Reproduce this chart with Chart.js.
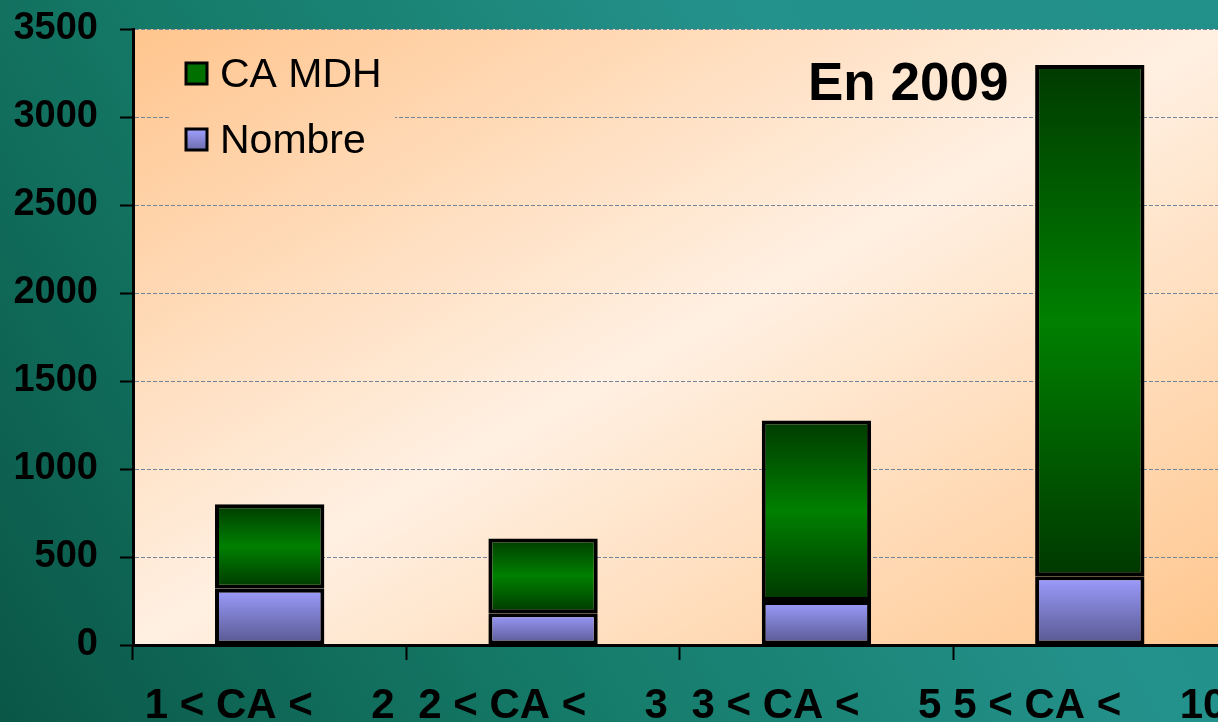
<!DOCTYPE html>
<html>
<head>
<meta charset="utf-8">
<script src="https://cdn.jsdelivr.net/npm/chart.js@4/dist/chart.umd.min.js"></script>
<style>
  html, body { margin: 0; padding: 0; overflow: hidden; background: #1a7a70; }
  #wrap { width: 1218px; height: 722px; overflow: hidden; }
</style>
</head>
<body>
<div id="wrap"><canvas id="Chart" width="1248" height="745"></canvas></div>
<script>
const categories = ['1 < CA <     2', '2 < CA <     3', '3 < CA <     5', '5 < CA <     10'];
const nombre = [320, 180, 250, 390];
const caMdh = [480, 425, 1025, 2905];
const yTicks = [0, 500, 1000, 1500, 2000, 2500, 3000, 3500];
const title = 'En 2009';

// gradient for one bar segment, top dark, lighter in the middle
function barFill(ctx, which){
  const chart = ctx.chart;
  const solid = which === 'ca' ? '#007a00' : '#8a8ae6';
  if (!chart.chartArea || ctx.type !== 'data') return solid;
  const y = chart.scales.y;
  const i = ctx.dataIndex;
  let lo, hi;
  if (which === 'ca') { lo = nombre[i]; hi = nombre[i] + caMdh[i]; }
  else { lo = 0; hi = nombre[i]; }
  const top = y.getPixelForValue(hi), bot = y.getPixelForValue(lo);
  const g = chart.ctx.createLinearGradient(0, top, 0, bot);
  if (which === 'ca') {
    g.addColorStop(0, '#003a00');
    g.addColorStop(0.5, '#008000');
    g.addColorStop(1, '#003800');
  } else {
    g.addColorStop(0, '#9d9dff');
    g.addColorStop(1, '#57578f');
  }
  return g;
}

function areaGradient(c, a){
  const w = a.right - a.left, h = a.bottom - a.top;
  const len = Math.sqrt(w*w + h*h);
  const ux = h / len, uy = w / len;
  const d = w * h / len;
  const cx = (a.left + a.right) / 2, cy = (a.top + a.bottom) / 2;
  const g = c.createLinearGradient(cx - ux*d, cy - uy*d, cx + ux*d, cy + uy*d);
  g.addColorStop(0, '#ffc58e');
  g.addColorStop(0.5, '#fff0e2');
  g.addColorStop(1, '#ffc68d');
  return g;
}

const backdrop = {
  id: 'backdrop',
  beforeDraw(chart){
    const c = chart.ctx, a = chart.chartArea;
    c.save();
    const bg = c.createLinearGradient(0, chart.height, chart.width, 0);
    bg.addColorStop(0, '#0a5646');
    bg.addColorStop(0.35, '#157a68');
    bg.addColorStop(0.7, '#24928c');
    bg.addColorStop(1, '#219088');
    c.fillStyle = bg;
    c.fillRect(0, 0, chart.width, chart.height);
    c.fillStyle = areaGradient(c, a);
    c.fillRect(a.left, a.top, a.right - a.left, a.bottom - a.top);
    c.restore();
  },
  afterDraw(chart){
    const c = chart.ctx, a = chart.chartArea;
    c.save();
    // legend box
    c.fillStyle = areaGradient(c, a);
    c.fillRect(170, 45, 225, 125);
    const items = chart.data.datasets.slice().reverse();
    items.forEach((ds, k) => {
      const yc = 74 + k * 66;
      c.fillStyle = '#007000';
      if (ds.label !== 'CA MDH') {
        const g = c.createLinearGradient(0, yc - 11, 0, yc + 11);
        g.addColorStop(0, '#a0a0ff'); g.addColorStop(1, '#6a6aa8');
        c.fillStyle = g;
      }
      c.fillRect(186, yc - 11, 21, 21);
      c.lineWidth = 3;
      c.strokeStyle = '#000';
      c.strokeRect(186, yc - 11, 21, 21);
      c.fillStyle = '#000';
      c.font = '41px "Liberation Sans", Arial, sans-serif';
      c.textBaseline = 'middle';
      c.fillText(ds.label, 220, yc + 2);
    });
    c.font = 'bold 53px "Liberation Sans", Arial, sans-serif';
    c.textBaseline = 'alphabetic';
    c.fillText(title, 808, 100);
    c.restore();
  }
};

const ctx = document.getElementById('Chart').getContext('2d');
const myChart = new Chart(ctx, {
  type: 'bar',
  data: {
    labels: categories,
    datasets: [
      {
        label: 'Nombre',
        data: nombre,
        backgroundColor: c => barFill(c, 'nb'),
        borderColor: '#000',
        borderWidth: 4,
        borderSkipped: false,
        barPercentage: 0.4,
        categoryPercentage: 1
      },
      {
        label: 'CA MDH',
        data: caMdh,
        backgroundColor: c => barFill(c, 'ca'),
        borderColor: '#000',
        borderWidth: 4,
        borderSkipped: false,
        barPercentage: 0.4,
        categoryPercentage: 1
      }
    ]
  },
  options: {
    responsive: false,
    animation: false,
    layout: { padding: { top: 29, right: 5, left: 0, bottom: 0 } },
    plugins: { legend: { display: false }, tooltip: { enabled: false } },
    scales: {
      x: {
        stacked: true,
        afterFit(s){ s.height = 100; },
        grid: { display: true, drawOnChartArea: false, tickLength: 15, tickColor: '#000', tickWidth: 2, offset: true },
        border: { color: '#000', width: 3 },
        ticks: {
          color: '#000',
          padding: 21,
          maxRotation: 0,
          autoSkip: false,
          font: { family: '"Liberation Sans", Arial, sans-serif', size: 42, weight: 'bold' }
        }
      },
      y: {
        stacked: true,
        min: 0,
        max: 3500,
        afterFit(s){ s.width = 133; s.paddingTop = 0; s.paddingBottom = 0; },
        afterBuildTicks(s){ s.ticks = yTicks.map(v => ({ value: v })); },
        grid: { color: '#72849a', lineWidth: 1, tickLength: 13, tickColor: '#000', tickWidth: 2 },
        border: { color: '#000', width: 3, dash: [4, 2] },
        ticks: {
          color: '#000',
          padding: 22,
          callback: v => String(v),
          font: { family: '"Liberation Sans", Arial, sans-serif', size: 38, weight: 'bold' }
        }
      }
    }
  },
  plugins: [backdrop]
});
</script>
</body>
</html>
